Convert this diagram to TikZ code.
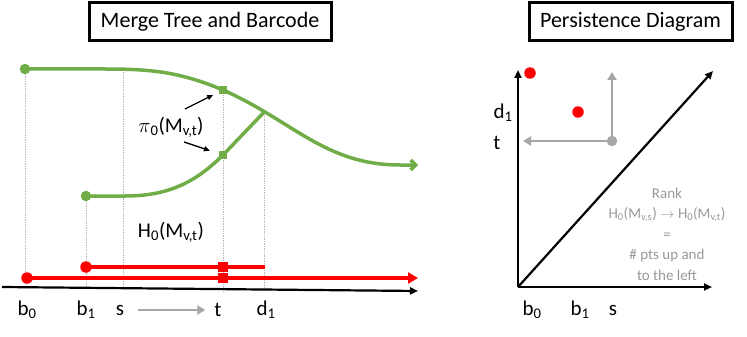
\documentclass[tikz,border=0pt]{standalone}
\usepackage{fontspec}
\setmainfont{Carlito}
\usepackage{xcolor}
\usetikzlibrary{arrows.meta,positioning,backgrounds}
\definecolor{treegreen}{HTML}{70AD47}
\definecolor{barred}{HTML}{FF0000}
\definecolor{softgray}{HTML}{A6A6A6}
\definecolor{notegray}{HTML}{999999}
\definecolor{guidegray}{HTML}{B8B8B8}

\begin{document}
\begin{tikzpicture}[
  x=1pt,y=-1pt,
  ttl/.style={rectangle,draw=black,line width=3pt,minimum height=38pt,inner sep=0pt,font=\fontsize{22}{24}\selectfont},
  lbl/.style={inner sep=0pt,font=\fontsize{21}{23}\selectfont},
  note/.style={inner sep=0pt,align=center,text=notegray,font=\fontsize{15}{20.5}\selectfont},
  gdot/.style={circle,fill=treegreen,minimum size=10.5pt,inner sep=0pt},
  gsq/.style={rectangle,fill=treegreen,minimum size=8.5pt,inner sep=0pt},
  rdot/.style={circle,fill=barred,minimum size=11.5pt,inner sep=0pt},
  rsq/.style={rectangle,fill=barred,minimum size=9.5pt,inner sep=0pt},
  qdot/.style={circle,fill=softgray,minimum size=10.5pt,inner sep=0pt},
  tree/.style={draw=treegreen,line width=3.5pt},
  bar/.style={draw=barred,line width=3.8pt},
  guide/.style={draw=guidegray,line width=0.7pt,densely dotted},
  axis/.style={-{Triangle[length=8pt,width=7pt]},line width=2.2pt},
  arr/.style={-{Triangle[length=6pt,width=5pt]},line width=1.3pt},
  garr/.style={-{Triangle[length=8pt,width=9pt]},draw=softgray,line width=2.4pt}
]
\useasboundingbox (0,0) rectangle (747,337);
% titles
\node[ttl,minimum width=242pt] (mtitle) at (210,22) {Merge Tree and Barcode};
\node[ttl,minimum width=203pt] (ptitle) at (630.5,22) {Persistence Diagram};
% merge tree
\node[gdot] (leaf0) at (25,69) {};
\node[gdot] (leaf1) at (86,196) {};
\node[gsq] (sqhi) at (223,90) {};
\node[gsq] (sqlo) at (223,155) {};
\coordinate (sfoot) at (123,70);
\coordinate (join) at (264.5,111.7);
\coordinate (treeend) at (418,165);
% barcode
\node[rdot] (bar1) at (86,267) {};
\node[rsq] (bar1t) at (223,267) {};
\coordinate (bar1end) at (265,267);
\node[rdot] (bar0) at (27,278) {};
\node[rsq] (bar0t) at (223,278) {};
\coordinate (bar0end) at (418,278);
\coordinate (ax0) at (2,287);
\coordinate (ax1) at (418,291);
% labels
\node[lbl] (lb0) at (27,310) {b\textsubscript{0}};
\node[lbl] (lb1) at (86,310) {b\textsubscript{1}};
\node[lbl] (ls) at (120,310) {s};
\node[lbl] (lt) at (218,310) {t};
\node[lbl] (ld1) at (266,310) {d\textsubscript{1}};
\node[lbl] (proj) at (171,127) {$\pi$\textsubscript{0}(M\textsubscript{v,t})};
\node[lbl] (hzero) at (171,232) {H\textsubscript{0}(M\textsubscript{v,t})};
\coordinate (piup) at (185,109);
\coordinate (pidown) at (184,142);
\begin{scope}[on background layer]
\draw[guide] (leaf0.center) -- (leaf0.center |- ax0);
\draw[guide] (leaf1.center) -- (leaf1.center |- ax0);
\draw[guide] (sfoot) -- (sfoot |- ax0);
\draw[guide] (sqhi.center) -- (sqhi.center |- ax1);
\draw[guide] (join) -- (join |- ax1);
\draw[tree,-{Straight Barb[length=5pt,width=10pt]}] (leaf0.center) -- (105,69) .. controls (152,69) and (180,72) .. (sqhi.center) .. controls (293,121) and (325,165) .. (400,165) -- (treeend);
\draw[tree] (leaf1.center) -- (125,196) .. controls (166,196) and (194,184) .. (sqlo.center) -- (join);
\draw[bar] (bar1.center) -- (bar1end);
\draw[bar,-{Triangle[length=10pt,width=11pt]}] (bar0.center) -- (bar0end);
\end{scope}
\draw[axis] (ax0) -- (ax1);
\draw[arr,shorten >=6pt] (piup) -- (sqhi);
\draw[arr,shorten >=9pt] (pidown) -- (sqlo);
\draw[garr] ([xshift=14pt]ls.east) -- ([xshift=-9pt]lt.west);
% persistence diagram
\coordinate (origin) at (518,287);
\coordinate (ytop) at (518,70);
\coordinate (xend) at (712,287);
\coordinate (dend) at (713,71);
\draw[axis] (origin) -- (ytop);
\draw[axis] (origin) -- (xend);
\draw[axis] (origin) -- (dend);
\node[rdot] (pt0) at (530,73) {};
\node[rdot] (pt1) at (578,112) {};
\node[qdot] (query) at (612,141) {};
\coordinate (qup) at (612,72);
\coordinate (qleft) at (523,141);
\draw[garr,line width=2.2pt] (query) -- (qup);
\draw[garr,line width=2.2pt] (query) -- (qleft);
\node[lbl] (rd1) at (503,113) {d\textsubscript{1}};
\node[lbl] (rt) at (497,143) {t};
\node[lbl] (rb0) at (532,310) {b\textsubscript{0}};
\node[lbl] (rb1) at (580,310) {b\textsubscript{1}};
\node[lbl] (rs) at (613,310) {s};
\node[note] (rank) at (667,234) {Rank\\H\textsubscript{0}(M\textsubscript{v,s}) $\rightarrow$ H\textsubscript{0}(M\textsubscript{v,t})\\=\\\# pts up and\\to the left};
\end{tikzpicture}
\end{document}
